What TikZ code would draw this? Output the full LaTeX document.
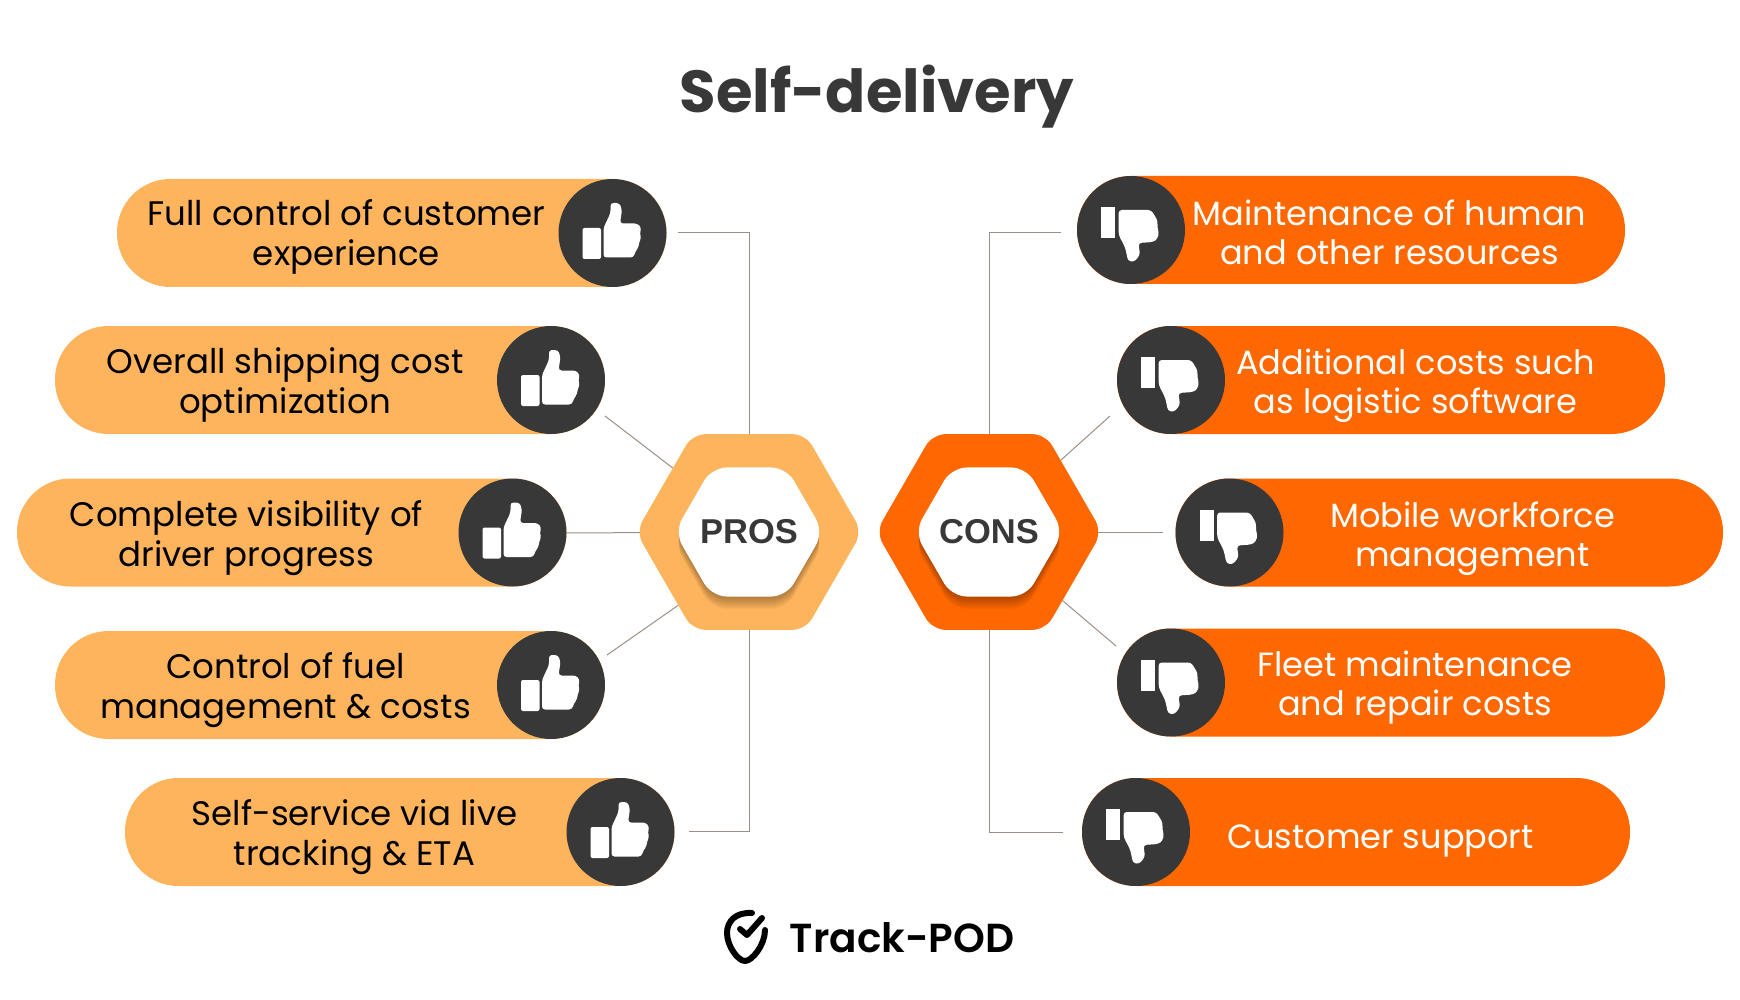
\documentclass[tikz,border=0pt]{standalone}
\usepackage{fontspec}
\setmainfont{Poppins}
\newfontfamily\hexfont{Liberation Sans}
\newfontfamily\logofont{Poppins SemiBold}
\usetikzlibrary{shapes.geometric,backgrounds}
\definecolor{prosorange}{HTML}{FDB45C}
\definecolor{consorange}{HTML}{FF6700}
\definecolor{icondark}{HTML}{383838}
\definecolor{linkgrey}{HTML}{9C8F85}
\tikzset{
 pill/.style={rounded corners=53.5pt},
 iconcircle/.style={circle,fill=icondark,minimum size=108pt,inner sep=0,outer sep=0},
 protextstyle/.style={align=center,inner sep=0,text=black,font=\fontsize{34}{40.5}\selectfont},
 contextstyle/.style={align=center,inner sep=0,text=white,font=\fontsize{33.6}{39.3}\selectfont},
 hexouter/.style={regular polygon,regular polygon sides=6,minimum size=226pt,inner sep=0,outer sep=0,rounded corners=13pt},
 hexinner/.style={regular polygon,regular polygon sides=6,minimum size=149pt,inner sep=0,outer sep=0,rounded corners=15pt},
 hexlabel/.style={text=icondark,inner sep=0,font=\hexfont\bfseries\fontsize{34.5}{40}\selectfont},
 link/.style={draw=linkgrey,line width=1pt},
 thumbup/.pic={
  \fill[white,rounded corners=2pt] (-30,-5)--(-11.5,-5)--(-11.5,26)--(-30,26)--cycle;
  \fill[white,rounded corners=3pt] (-9,24.5)--(-9,-5)--(-2,-20)--(-2,-30)--(7,-30)--(9.5,-23)--(7.5,-9.5)
   --(25,-9.5)--(29,-5)--(27,1)--(29,5)--(26,10)--(26.5,14)--(23,18)--(21,24.5)--cycle;
 },
 thumbdown/.pic={
  \fill[white] (-30,-23)--(-15.7,-23)--(-15.7,8.3)--(-30,8.3)--cycle;
  \fill[white,rounded corners=3pt] (-12.3,-20)--(20,-20)--(24,-14)--(27,-8)--(26,-3)--(28,2)--(26.5,9)--(22,12)
   --(7.5,13)--(9,25)--(3,32)--(-3,31)--(-5.7,18)--(-12.3,5)--cycle;
 },
}
\begin{document}
\begin{tikzpicture}[x=1pt,y=-1pt,line cap=round,line join=round]
 \useasboundingbox (0,0) rectangle (1740,1000);
 \node[inner sep=0,text=icondark,font=\bfseries\fontsize{59.3}{64}\selectfont] (title) at (877,96.5) {Self-delivery};
 \foreach \idx/\lft/\cx/\yy/\tx/\ty/\lbl in {
  1/117/612.5/233/346.5/237/{Full control of customer\\experience},
  2/55/551/380/285/385/{Overall shipping cost\\optimization},
  3/17/512.5/532.5/246.5/538/{Complete visibility of\\driver progress},
  4/55/551/685/285.5/690/{Control of fuel\\management \& costs},
  5/125/620.5/832/354.5/837/{Self-service via live\\tracking \& ETA}}{
  \fill[prosorange,pill] (\lft,\yy-54) rectangle (\cx+54,\yy+54);
  \node[iconcircle] (procircle\idx) at (\cx,\yy) {};
  \pic at (\cx,\yy) {thumbup};
  \node[protextstyle] (protext\idx) at (\tx,\ty) {\lbl};
 }
 \foreach \idx/\rgt/\cx/\yy/\tx/\ty/\lbl in {
  1/1625/1131/230/1389.5/232.5/{Maintenance of human\\and other resources},
  2/1665/1171/380/1415.5/386/{Additional costs such\\as logistic software},
  3/1723/1229.5/532.5/1472.5/539/{Mobile workforce\\management},
  4/1665/1171/682.5/1415/687.5/{Fleet maintenance\\and repair costs},
  5/1630/1136/832/1380.5/841.5/{Customer support}}{
  \fill[consorange,pill] (\cx-54,\yy-54) rectangle (\rgt,\yy+54);
  \node[iconcircle] (concircle\idx) at (\cx,\yy) {};
  \pic at (\cx,\yy) {thumbdown};
  \node[contextstyle] (context\idx) at (\tx,\ty) {\lbl};
 }
 \node[hexouter,fill=prosorange] (proshex) at (749,532) {};
 \node[hexouter,fill=consorange] (conshex) at (989,532) {};
 \foreach \hexname/\hx in {pros/749,cons/989}{
  \foreach \k in {12,10,8,6,4,2}
   \node[hexinner,fill=black,opacity=.05] (\hexname shade\k) at (\hx,532+\k) {};
  \node[hexinner,fill=white] (\hexname inner) at (\hx,532) {};
 }
 \node[hexlabel] (proslabel) at (749,532) {PROS};
 \node[hexlabel] (conslabel) at (989,532) {CONS};
 \coordinate (pl1) at (678,233);
 \coordinate (pl2) at (605,416);
 \coordinate (pl3) at (567,533);
 \coordinate (pl4) at (607,655);
 \coordinate (pl5) at (689,831);
 \coordinate (cl1) at (1061,233);
 \coordinate (cl2) at (1110,416);
 \coordinate (cl3) at (1163,532);
 \coordinate (cl4) at (1116,646);
 \coordinate (cl5) at (1063,832);
 \begin{scope}[on background layer]
  \draw[link] (pl1)-|(proshex.north);
  \draw[link] (pl2)--(proshex.140);
  \draw[link] (pl3)--(proshex.center);
  \draw[link] (pl4)--(proshex.-134);
  \draw[link] (pl5)-|(proshex.south);
  \draw[link] (cl1)-|(conshex.north);
  \draw[link] (cl2)--(conshex.45);
  \draw[link] (cl3)--(conshex.center);
  \draw[link] (cl4)--(conshex.-43);
  \draw[link] (cl5)-|(conshex.south);
 \end{scope}
 \draw[line width=6pt] (752,913) .. controls (736,912) and (727,921) .. (727,933)
  .. controls (727,946) and (738,961) .. (745,961) .. controls (752,961) and (765,945) .. (765,930);
 \draw[line width=6pt] (740,929) -- (747,935) -- (762,918);
 \node[inner sep=0,text=black,font=\logofont\fontsize{40.5}{46}\selectfont] (logotext) at (902,938) {Track-POD};
\end{tikzpicture}
\end{document}
